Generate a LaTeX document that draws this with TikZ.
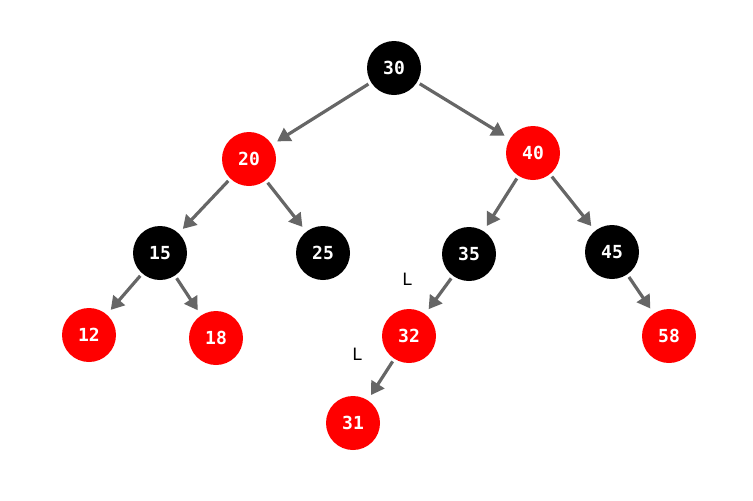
\documentclass[tikz,border=0pt]{standalone}
\usepackage{fontspec}
\setmainfont{DejaVu Sans}
\newfontfamily\nodefont{DejaVu Sans Mono}
\usetikzlibrary{arrows.meta}
\definecolor{rbred}{RGB}{255,0,0}
\definecolor{edgegray}{RGB}{102,102,102}
\tikzset{
  rbnode/.style={circle, minimum size=54pt, inner sep=0pt, text=white, font=\nodefont\bfseries\fontsize{18}{18}\selectfont},
  rnode/.style={rbnode, fill=rbred},
  bnode/.style={rbnode, fill=black},
  edge/.style={draw=edgegray, line width=3.2pt, -{Triangle[length=13pt,width=15pt]}, shorten <=3pt, shorten >=6pt},
  lbl/.style={font=\fontsize{17}{17}\selectfont}
}
\begin{document}
\begin{tikzpicture}[x=1pt,y=-1pt]
\useasboundingbox (0,0) rectangle (753,501);
\node[bnode] (n30) at (394,68) {30};
\node[rnode] (n20) at (249,159) {20};
\node[rnode] (n40) at (533,153) {40};
\node[bnode] (n15) at (160,253) {15};
\node[bnode] (n25) at (323,253) {25};
\node[bnode] (n35) at (469,254) {35};
\node[bnode] (n45) at (612,252) {45};
\node[rnode] (n12) at (89,335) {12};
\node[rnode] (n18) at (216,338) {18};
\node[rnode] (n32) at (409,336) {32};
\node[rnode] (n58) at (669,336) {58};
\node[rnode] (n31) at (353,423) {31};
\node[lbl] (l1) at (407,279) {L};
\node[lbl] (l2) at (357,354) {L};
\draw[edge] (n30) -- (n20);
\draw[edge] (n30) -- (n40);
\draw[edge] (n20) -- (n15);
\draw[edge] (n20) -- (n25);
\draw[edge] (n40) -- (n35);
\draw[edge] (n40) -- (n45);
\draw[edge] (n15) -- (n12);
\draw[edge] (n15) -- (n18);
\draw[edge] (n35) -- (n32);
\draw[edge] (n45) -- (n58);
\draw[edge] (n32) -- (n31);
\end{tikzpicture}
\end{document}
